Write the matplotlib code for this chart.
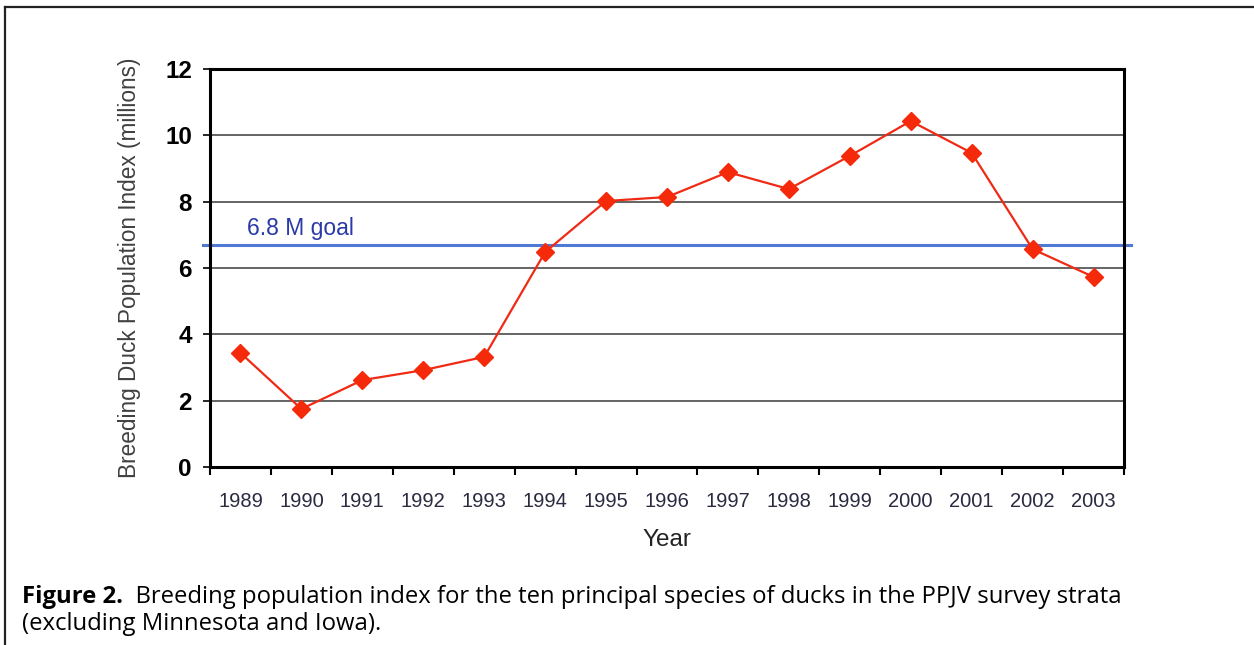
import numpy as np
import matplotlib
matplotlib.use("Agg")
import matplotlib.pyplot as plt
from matplotlib.lines import Line2D

years = ["1989", "1990", "1991", "1992", "1993", "1994", "1995", "1996",
         "1997", "1998", "1999", "2000", "2001", "2002", "2003"]
bpi = [3.44, 1.75, 2.62, 2.92, 3.32, 6.48, 8.02, 8.14,
       8.89, 8.38, 9.38, 10.43, 9.47, 6.57, 5.73]
goal = 6.7
goal_label = "6.8 M goal"
caption_bold = "Figure 2."
caption_rest = ("  Breeding population index for the ten principal species of ducks in the PPJV survey strata\n"
                "(excluding Minnesota and Iowa).")

W, H = 1254, 645
fig = plt.figure(figsize=(W / 100, H / 100), dpi=100)
ax = fig.add_axes([210 / W, 1 - 467 / H, (1124 - 210) / W, (467 - 69) / H])

x = np.arange(len(years))

# gridlines
for v in [2, 4, 6, 8, 10]:
    ax.axhline(v, color="#3a3a3a", lw=1.1, zorder=1)

# goal line, drawn a little past the axes
ax.plot([-0.62, len(years) - 0.38], [goal, goal], color="#5079d6", lw=2.2,
        clip_on=False, zorder=2)
ax.text(0.1, goal + 0.5, goal_label, color="#2a3aa6", fontsize=16.5,
        family="Liberation Sans", va="center", ha="left")

ax.plot(x, bpi, color="#f02a14", lw=1.6, marker="D", markersize=9.5,
        markerfacecolor="#f52a0a", markeredgecolor="#f52a0a", zorder=3)

ax.set_xlim(-0.5, len(years) - 0.5)
ax.set_ylim(0, 12)
ax.set_yticks(np.arange(0, 13, 2))
ax.set_yticklabels([str(v) for v in range(0, 13, 2)], fontsize=17.5,
                   fontweight="bold", family="Liberation Sans")
ax.set_xticks(np.arange(-0.5, len(years), 1))
ax.set_xticklabels([])
ax.set_xticks(x, minor=True)
ax.set_xticklabels(years, minor=True, fontsize=14.5, family="Liberation Sans",
                   color="#2a2a40")
ax.tick_params(axis="x", which="minor", length=0, pad=18)
ax.tick_params(axis="x", which="major", length=6, width=1.5, direction="out")
ax.tick_params(axis="y", length=5, width=1.2, pad=8)

for s in ax.spines.values():
    s.set_linewidth(2.2)
    s.set_color("black")

ax.set_ylabel("Breeding Duck Population Index (millions)", fontsize=16.3,
              family="Liberation Sans", color="#404040", labelpad=17)
ax.set_xlabel("Year", fontsize=17.5, family="Liberation Sans", color="#222222",
              labelpad=13)

# outer frame (right and bottom run off the page)
fig.add_artist(Line2D([5 / W, 5 / W], [-0.02, 1 - 7 / H], color="#222222",
                      lw=1.6, transform=fig.transFigure))
fig.add_artist(Line2D([5 / W, 1.02], [1 - 7 / H, 1 - 7 / H], color="#222222",
                      lw=1.6, transform=fig.transFigure))

t = fig.text(22 / W, 1 - 597 / H, caption_bold, fontsize=17.2, fontweight="bold",
             family="Open Sans", va="center", ha="left")
fig.canvas.draw()
bb = t.get_window_extent()
fig.text(bb.x1 / W, 1 - 597 / H, caption_rest.split("\n")[0], fontsize=17.2,
         family="Open Sans", va="center", ha="left")
fig.text(22 / W, 1 - 624 / H, caption_rest.split("\n")[1], fontsize=17.2,
         family="Open Sans", va="center", ha="left")

fig.savefig("out.png", dpi=100)
